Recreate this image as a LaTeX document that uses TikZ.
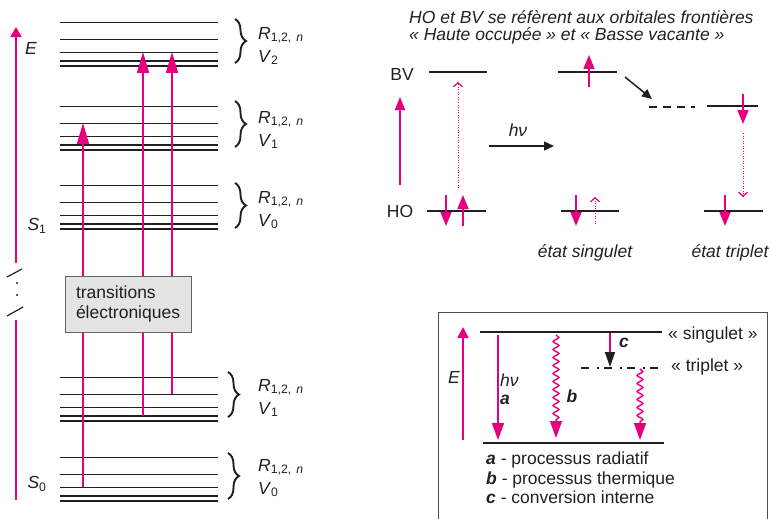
\documentclass[tikz,border=0pt]{standalone}
\usepackage{fontspec}
\setmainfont{Liberation Sans}
\usetikzlibrary{arrows.meta,decorations.pathmorphing,decorations.pathreplacing}
\definecolor{fuchsia}{HTML}{E6007E}
\definecolor{ink}{HTML}{231F20}
\definecolor{boxgray}{HTML}{E4E4E4}
\newcommand{\rvtext}[1]{\textit{R}\textsubscript{1,2,\hspace{5pt}\textit{n}}\\\textit{V}\textsubscript{#1}}
\tikzset{
  levelline/.style={draw=ink,line width=.9pt},
  orbital/.style={draw=ink,line width=1.5pt},
  pinkline/.style={draw=fuchsia,line width=1.5pt},
  bigup/.style={pinkline,-{Triangle[length=21pt,width=12pt]}},
  axisup/.style={pinkline,line width=2pt,-{Triangle[length=11pt,width=11pt]}},
  spin/.style={pinkline,-{Triangle[length=14pt,width=11pt]}},
  ghost/.style={draw=fuchsia,line width=1pt,dash pattern=on 1pt off 1.5pt,
    -{Straight Barb[length=4pt,width=9pt,line width=1.2pt]}},
  blackarrow/.style={draw=ink,line width=1.5pt,-{Triangle[length=10pt,width=9pt]}},
  decay/.style={pinkline,-{Triangle[length=17pt,width=12pt]}},
  wavy/.style={decay,decorate,decoration={snake,amplitude=2.8pt,
    segment length=8pt,post length=18pt}},
  levelbrace/.style={draw=ink,line width=1.9pt,decorate,decoration={brace,amplitude=11pt}},
  txt/.style={font=\fontsize{17.5}{20}\selectfont,text=ink,inner sep=0pt},
  note/.style={txt,font=\fontsize{17.5}{20}\selectfont\itshape},
  rvlab/.style={txt,anchor=west,align=left,font=\fontsize{17.5}{23}\selectfont},
  transbox/.style={draw=ink!70,fill=boxgray,line width=1pt,minimum width=126pt,
    minimum height=56pt,text width=104pt,align=left,inner xsep=11pt,
    font=\fontsize{17.5}{19.5}\selectfont,text=ink},
  frame/.style={draw=ink!80,line width=1pt},
}

\begin{document}
\begin{tikzpicture}[x=1pt,y=-1pt]
\useasboundingbox (0,0) rectangle (771,519);

% vibrational / rotational levels
\foreach \g/\ty in {v2/22, v1/106, v0/185, w1/377, w0/457} {
  \foreach \i/\dy/\lw in {1/0/.9, 2/17/.9, 3/30/.9, 4/39/1.3, 5/44/1.8} {
    \coordinate (\g-\i) at (60,\ty+\dy);
    \draw[levelline,line width=\lw pt] (\g-\i) -- ++(158,0);
  }
}

\coordinate (trA) at (83,0);
\coordinate (trB) at (143,0);
\coordinate (trC) at (172,0);
\draw[bigup] (trA |- w0-3) -- (trA |- v1-2);
\draw[bigup] (trB |- w1-4) -- (trB |- v2-3);
\draw[bigup] (trC |- w1-2) -- (trC |- v2-3);
\node[transbox] (trans) at (128,304) {transitions\\électroniques};

% energy axis with break
\coordinate (Ebot) at (16,500);
\coordinate (Ecut) at (16,320);
\coordinate (Eres) at (16,263);
\coordinate (Etip) at (16,27);
\draw[pinkline,line width=2pt] (Ebot) -- (Ecut);
\draw[axisup,-{Triangle[length=10pt,width=11pt]}] (Eres) -- (Etip);
\draw[ink,line width=1.2pt] (7,277) -- (22,269) (7,316) -- (23,307);
\fill[ink] (17,283) circle (1.1pt) (17,295) circle (1.1pt);
\node[txt,font=\fontsize{17.5}{20}\selectfont\itshape] (Elab) at (31,48) {E};
\node[txt] (S1) at (37,226) {\textit{S}\textsubscript{1}};
\node[txt] (S0) at (37,484) {\textit{S}\textsubscript{0}};

\draw[levelbrace] (235,19) -- (235,63);
\draw[levelbrace] (235,101) -- (235,147);
\draw[levelbrace] (235,183) -- (235,228);
\draw[levelbrace] (228,372) -- (228,417);
\draw[levelbrace] (228,453) -- (228,499);
\node[rvlab] (rv2) at (258,46) {\rvtext{2}};
\node[rvlab] (rv1) at (258,130) {\rvtext{1}};
\node[rvlab] (rv0) at (258,210) {\rvtext{0}};
\node[rvlab] (rw1) at (258,398) {\rvtext{1}};
\node[rvlab] (rw0) at (258,478) {\rvtext{0}};

% frontier orbitals
\node[note,anchor=west] (note1) at (409,17) {HO et BV se réfèrent aux orbitales frontières};
\node[note,anchor=west] (note2) at (409,36) {« Haute occupée » et « Basse vacante »};
\node[txt] (BV) at (402,74) {BV};
\node[txt] (HO) at (400,211) {HO};
\draw[orbital] (429,72) -- (487,72);
\draw[orbital] (427,211) -- (486,211);
\draw[axisup,-{Triangle[length=13pt,width=10pt]}] (400,185) -- (400,97);
\draw[ghost] (458,188) -- (458,82);
\draw[spin] (446,195) -- (446,226);
\draw[spin] (463,226) -- (463,195);
\node[note] (hnu) at (518,130) {hν};
\draw[blackarrow] (489,146) -- (554,146);

\draw[orbital] (558,72) -- (617,72);
\draw[spin] (589,87) -- (589,55);
\draw[orbital] (561,211) -- (619,211);
\draw[spin] (576,195) -- (576,226);
\draw[ghost] (595,224) -- (595,197);
\node[note] (singlet) at (585,253) {état singulet};

\draw[blackarrow] (625,77) -- (652,99);
\draw[orbital,dash pattern=on 8pt off 6pt] (649,107) -- (695,107);
\draw[orbital] (707,106) -- (758,106);
\draw[spin] (743,94) -- (743,124);
\draw[ghost] (743,133) -- (743,197);
\draw[orbital] (704,211) -- (763,211);
\draw[spin] (725,195) -- (725,226);
\node[note] (triplet) at (730,253) {état triplet};

% relaxation processes
\draw[frame] (438,312) rectangle (767,530);
\draw[axisup] (463,440) -- (463,327);
\node[note] (Ebox) at (454,377) {E};
\draw[orbital] (480,332) -- (662,332);
\draw[orbital] (483,443) -- (664,443);
\draw[orbital,dash pattern=on 8pt off 8pt on 2pt off 5pt] (581,368) -- (662,368);
\node[txt,anchor=west] (sing) at (668,335) {« singulet »};
\node[txt,anchor=west] (trip) at (671,367) {« triplet »};
\draw[decay] (498,335) -- (498,440);
\node[note,anchor=west] (hnu2) at (500,380) {hν};
\node[txt,anchor=west] (la) at (500,400) {\textbf{\textit{a}}};
\draw[wavy] (556,335) -- (556,438);
\node[txt] (lb) at (572,396) {\textbf{\textit{b}}};
\draw[pinkline] (610,333) -- (610,353);
\draw[draw=ink,line width=1.5pt,-{Triangle[length=15pt,width=10pt]}] (610,352) -- (610,367);
\node[txt] (lc) at (624,343) {\textbf{\textit{c}}};
\draw[wavy] (640,369) -- (640,440);
\node[txt,anchor=west,align=left,font=\fontsize{17.5}{19.5}\selectfont] (legend) at (486,478)
  {\textbf{\textit{a}} - processus radiatif\\\textbf{\textit{b}} - processus thermique\\\textbf{\textit{c}} - conversion interne};
\end{tikzpicture}
\end{document}
